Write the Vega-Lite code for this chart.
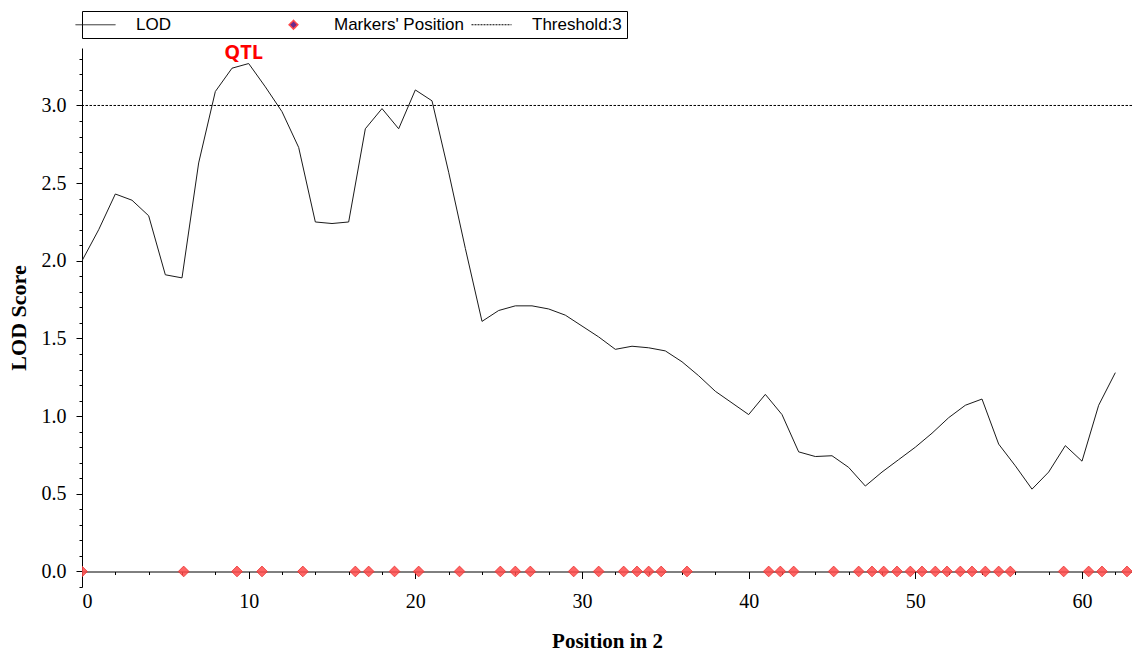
{
  "$schema": "https://vega.github.io/schema/vega-lite/v6.json",
  "width": 1050,
  "height": 539,
  "autosize": {"type": "none"},
  "padding": {"left": 82, "top": 48, "right": 0, "bottom": 69},
  "background": "white",
  "datasets": {
    "lod": [
      {"pos": 0, "lod": 2.00, "series": "LOD"},
      {"pos": 1, "lod": 2.20, "series": "LOD"},
      {"pos": 2, "lod": 2.43, "series": "LOD"},
      {"pos": 3, "lod": 2.39, "series": "LOD"},
      {"pos": 4, "lod": 2.29, "series": "LOD"},
      {"pos": 5, "lod": 1.91, "series": "LOD"},
      {"pos": 6, "lod": 1.89, "series": "LOD"},
      {"pos": 7, "lod": 2.63, "series": "LOD"},
      {"pos": 8, "lod": 3.09, "series": "LOD"},
      {"pos": 9, "lod": 3.24, "series": "LOD"},
      {"pos": 10, "lod": 3.27, "series": "LOD"},
      {"pos": 11, "lod": 3.12, "series": "LOD"},
      {"pos": 12, "lod": 2.96, "series": "LOD"},
      {"pos": 13, "lod": 2.73, "series": "LOD"},
      {"pos": 14, "lod": 2.25, "series": "LOD"},
      {"pos": 15, "lod": 2.24, "series": "LOD"},
      {"pos": 16, "lod": 2.25, "series": "LOD"},
      {"pos": 17, "lod": 2.85, "series": "LOD"},
      {"pos": 18, "lod": 2.98, "series": "LOD"},
      {"pos": 19, "lod": 2.85, "series": "LOD"},
      {"pos": 20, "lod": 3.10, "series": "LOD"},
      {"pos": 21, "lod": 3.03, "series": "LOD"},
      {"pos": 22, "lod": 2.57, "series": "LOD"},
      {"pos": 23, "lod": 2.08, "series": "LOD"},
      {"pos": 24, "lod": 1.61, "series": "LOD"},
      {"pos": 25, "lod": 1.68, "series": "LOD"},
      {"pos": 26, "lod": 1.71, "series": "LOD"},
      {"pos": 27, "lod": 1.71, "series": "LOD"},
      {"pos": 28, "lod": 1.69, "series": "LOD"},
      {"pos": 29, "lod": 1.65, "series": "LOD"},
      {"pos": 30, "lod": 1.58, "series": "LOD"},
      {"pos": 31, "lod": 1.51, "series": "LOD"},
      {"pos": 32, "lod": 1.43, "series": "LOD"},
      {"pos": 33, "lod": 1.45, "series": "LOD"},
      {"pos": 34, "lod": 1.44, "series": "LOD"},
      {"pos": 35, "lod": 1.42, "series": "LOD"},
      {"pos": 36, "lod": 1.35, "series": "LOD"},
      {"pos": 37, "lod": 1.26, "series": "LOD"},
      {"pos": 38, "lod": 1.16, "series": "LOD"},
      {"pos": 39, "lod": 1.085, "series": "LOD"},
      {"pos": 40, "lod": 1.01, "series": "LOD"},
      {"pos": 41, "lod": 1.14, "series": "LOD"},
      {"pos": 42, "lod": 1.01, "series": "LOD"},
      {"pos": 43, "lod": 0.77, "series": "LOD"},
      {"pos": 44, "lod": 0.74, "series": "LOD"},
      {"pos": 45, "lod": 0.745, "series": "LOD"},
      {"pos": 46, "lod": 0.67, "series": "LOD"},
      {"pos": 47, "lod": 0.55, "series": "LOD"},
      {"pos": 48, "lod": 0.64, "series": "LOD"},
      {"pos": 49, "lod": 0.72, "series": "LOD"},
      {"pos": 50, "lod": 0.80, "series": "LOD"},
      {"pos": 51, "lod": 0.89, "series": "LOD"},
      {"pos": 52, "lod": 0.99, "series": "LOD"},
      {"pos": 53, "lod": 1.07, "series": "LOD"},
      {"pos": 54, "lod": 1.11, "series": "LOD"},
      {"pos": 55, "lod": 0.82, "series": "LOD"},
      {"pos": 56, "lod": 0.68, "series": "LOD"},
      {"pos": 57, "lod": 0.53, "series": "LOD"},
      {"pos": 58, "lod": 0.64, "series": "LOD"},
      {"pos": 59, "lod": 0.81, "series": "LOD"},
      {"pos": 60, "lod": 0.71, "series": "LOD"},
      {"pos": 61, "lod": 1.07, "series": "LOD"},
      {"pos": 62, "lod": 1.28, "series": "LOD"}
    ],
    "markers": [
      {"pos": 0, "lod": 0},
      {"pos": 6.1, "lod": 0},
      {"pos": 9.3, "lod": 0},
      {"pos": 10.8, "lod": 0},
      {"pos": 13.25, "lod": 0},
      {"pos": 16.4, "lod": 0},
      {"pos": 17.2, "lod": 0},
      {"pos": 18.75, "lod": 0},
      {"pos": 20.2, "lod": 0},
      {"pos": 22.65, "lod": 0},
      {"pos": 25.1, "lod": 0},
      {"pos": 26.0, "lod": 0},
      {"pos": 26.9, "lod": 0},
      {"pos": 29.5, "lod": 0},
      {"pos": 31.0, "lod": 0},
      {"pos": 32.5, "lod": 0},
      {"pos": 33.3, "lod": 0},
      {"pos": 34.0, "lod": 0},
      {"pos": 34.75, "lod": 0},
      {"pos": 36.3, "lod": 0},
      {"pos": 41.2, "lod": 0},
      {"pos": 41.9, "lod": 0},
      {"pos": 42.7, "lod": 0},
      {"pos": 45.1, "lod": 0},
      {"pos": 46.6, "lod": 0},
      {"pos": 47.4, "lod": 0},
      {"pos": 48.1, "lod": 0},
      {"pos": 48.9, "lod": 0},
      {"pos": 49.7, "lod": 0},
      {"pos": 50.4, "lod": 0},
      {"pos": 51.2, "lod": 0},
      {"pos": 51.9, "lod": 0},
      {"pos": 52.7, "lod": 0},
      {"pos": 53.4, "lod": 0},
      {"pos": 54.2, "lod": 0},
      {"pos": 55.0, "lod": 0},
      {"pos": 55.7, "lod": 0},
      {"pos": 58.9, "lod": 0},
      {"pos": 60.4, "lod": 0},
      {"pos": 61.2, "lod": 0},
      {"pos": 62.7, "lod": 0}
    ],
    "threshold": [{"lod": 3, "series": "Threshold:3"}],
    "annot": [{"label": "QTL", "pos": 9.7, "lod": 3.338}]
  },
  "config": {
    "view": {"stroke": null},
    "axis": {
      "domainColor": "#000",
      "tickColor": "#000",
      "labelColor": "#000",
      "titleColor": "#000",
      "labelFont": "Liberation Serif",
      "titleFont": "Liberation Serif",
      "labelFontSize": 20,
      "titleFontWeight": "bold",
      "grid": false
    }
  },
  "layer": [
    {
      "data": {"name": "lod"},
      "mark": {"type": "line", "strokeWidth": 1, "clip": true},
      "encoding": {
        "x": {
          "field": "pos", "type": "quantitative",
          "scale": {"domain": [0, 63], "nice": false, "zero": false},
          "axis": {
            "title": "Position in 2", "orient": "bottom",
            "values": [0, 10, 20, 30, 40, 50, 60],
            "offset": -15.5, "tickSize": 7, "labelPadding": 13,
            "titleFontSize": 21, "titlePadding": 19
          }
        },
        "y": {
          "field": "lod", "type": "quantitative",
          "scale": {"domain": [-0.1, 3.37], "nice": false, "zero": false},
          "axis": {
            "title": "LOD Score", "orient": "left",
            "values": [0, 0.5, 1, 1.5, 2, 2.5, 3], "format": ".1f",
            "tickSize": 6, "labelPadding": 10,
            "titleFontSize": 22, "titlePadding": 11
          }
        },
        "color": {
          "field": "series", "type": "nominal",
          "scale": {"domain": ["LOD", "Markers' Position", "Threshold:3"], "range": ["#1a1a1a", "#ff4a4a", "#000000"]},
          "legend": {
            "title": null, "orient": "none", "legendX": 0, "legendY": -37,
            "direction": "horizontal", "columns": 3, "gridAlign": "all",
            "strokeColor": "#000", "padding": 5,
            "labelFont": "Liberation Sans", "labelFontSize": 17, "labelColor": "#000",
            "labelOffset": 32, "columnPadding": 5, "labelLimit": 300,
            "symbolSize": 1600, "symbolType": "stroke", "symbolStrokeWidth": 1,
            "encode": {
              "symbols": {
                "update": {
                  "shape": {"signal": "datum.value === 'LOD' || datum.value === 'Threshold:3' ? 'stroke' : 'diamond'"},
                  "size": {"signal": "datum.value === 'LOD' || datum.value === 'Threshold:3' ? 1600 : 75"},
                  "strokeDash": {"signal": "datum.value === 'Threshold:3' ? [2, 1] : [1, 0]"},
                  "fill": {"signal": "datum.value === 'LOD' || datum.value === 'Threshold:3' ? 'transparent' : '#6b2a8c'"},
                  "stroke": {"signal": "datum.value === 'LOD' || datum.value === 'Threshold:3' ? '#000' : '#ff1a1a'"},
                  "strokeWidth": {"signal": "datum.value === 'LOD' || datum.value === 'Threshold:3' ? 1 : 1.5"},
                  "fillOpacity": {"value": 1},
                  "opacity": {"value": 1}
                }
              }
            }
          }
        }
      }
    },
    {
      "data": {"name": "markers"},
      "mark": {"type": "point", "shape": "diamond", "filled": true, "size": 115, "color": "#ff4a4a", "stroke": "#e8302f", "strokeWidth": 0.8, "fillOpacity": 0.85, "opacity": 1, "clip": true},
      "encoding": {
        "x": {
          "field": "pos", "type": "quantitative",
          "axis": {
            "orient": "bottom", "title": null, "labels": false, "domain": false,
            "values": [2, 4, 6, 8, 12, 14, 16, 18, 22, 24, 26, 28, 32, 34, 36, 38, 42, 44, 46, 48, 52, 54, 56, 58, 62],
            "offset": -15.5, "tickSize": 3
          }
        },
        "y": {
          "field": "lod", "type": "quantitative",
          "axis": {
            "orient": "left", "title": null, "labels": false, "domain": false,
            "values": [-0.1, 0.1, 0.2, 0.3, 0.4, 0.6, 0.7, 0.8, 0.9, 1.1, 1.2, 1.3, 1.4, 1.6, 1.7, 1.8, 1.9, 2.1, 2.2, 2.3, 2.4, 2.6, 2.7, 2.8, 2.9, 3.1, 3.2, 3.3],
            "tickSize": 3
          }
        }
      }
    },
    {
      "data": {"name": "threshold"},
      "mark": {"type": "rule", "strokeDash": [2.5, 1.5], "strokeWidth": 1},
      "encoding": {
        "y": {"field": "lod", "type": "quantitative", "axis": null},
        "color": {"field": "series", "type": "nominal"}
      }
    },
    {
      "data": {"name": "annot"},
      "mark": {"type": "text", "color": "#ff0000", "font": "Open Sans", "fontWeight": "bold", "fontSize": 20, "align": "center", "baseline": "middle"},
      "encoding": {
        "x": {"field": "pos", "type": "quantitative", "axis": null},
        "y": {"field": "lod", "type": "quantitative", "axis": null},
        "text": {"field": "label"}
      }
    }
  ],
  "resolve": {"axis": {"x": "independent", "y": "independent"}}
}
